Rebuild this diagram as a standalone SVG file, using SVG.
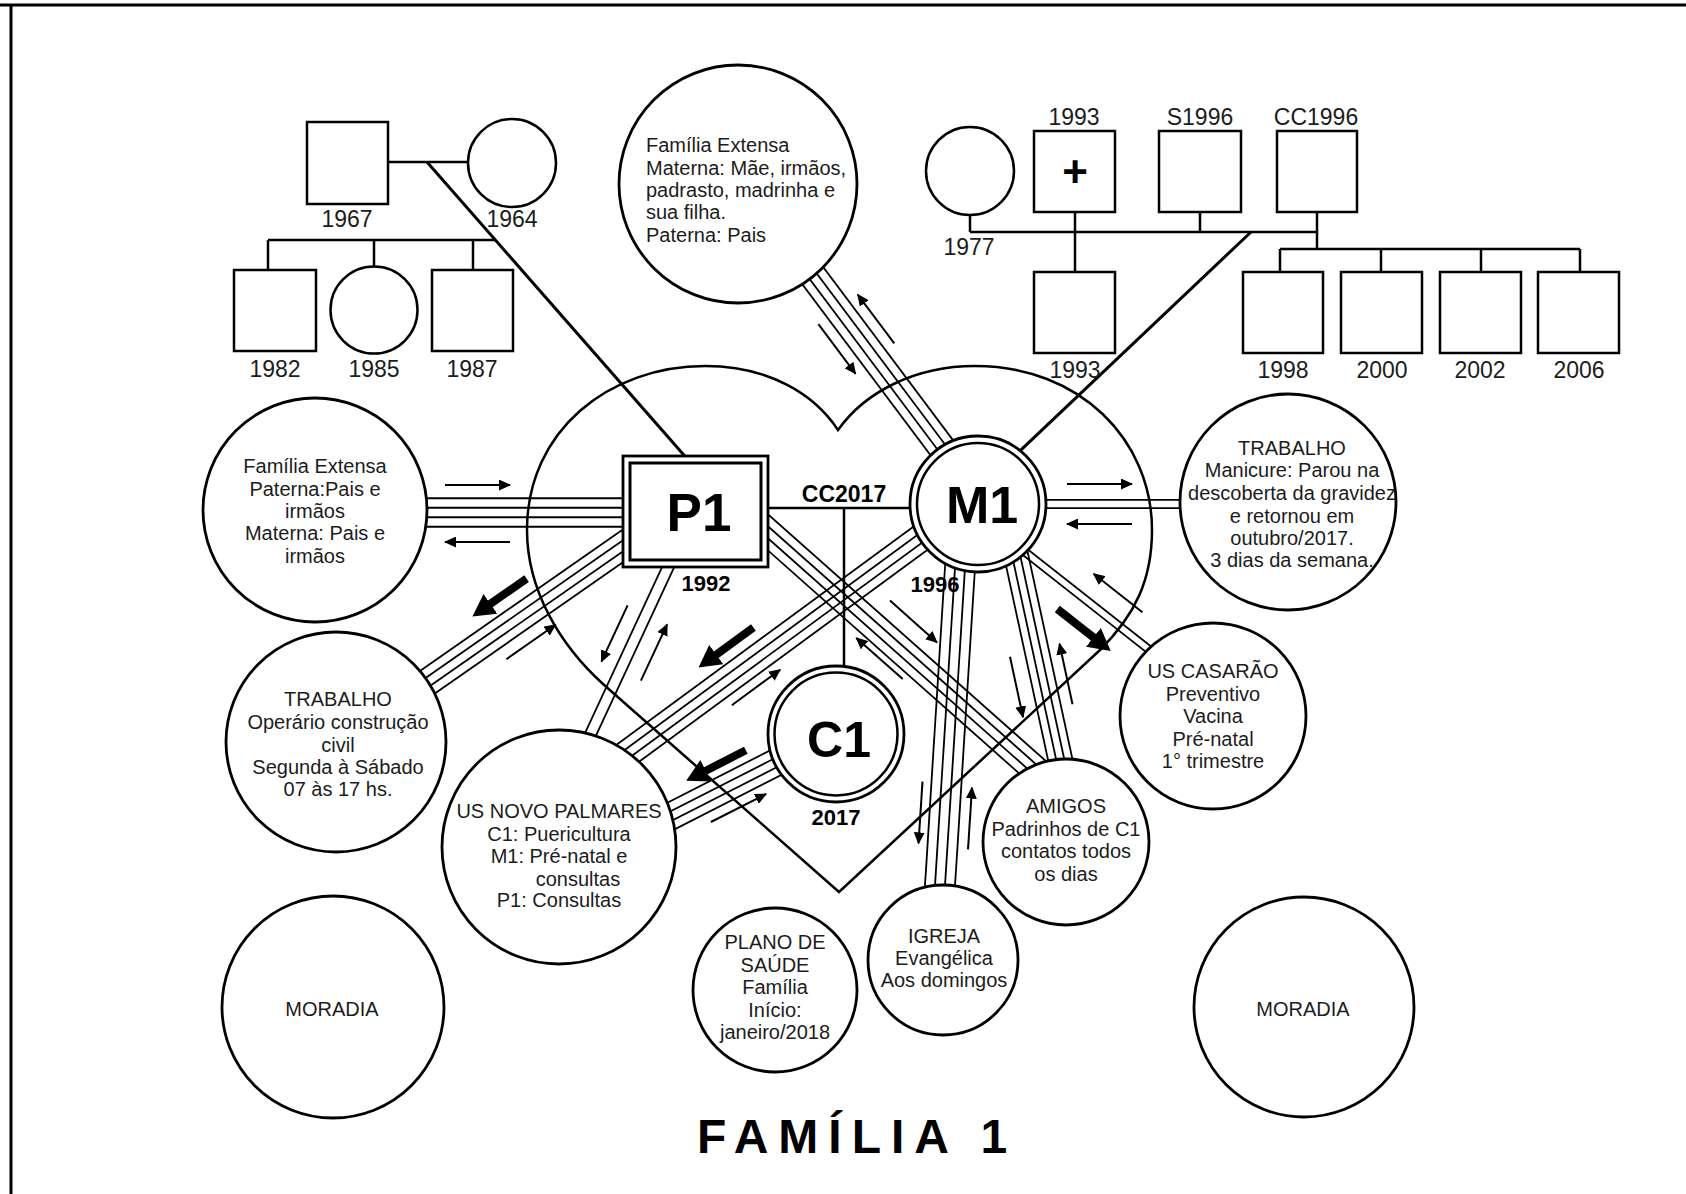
<svg xmlns="http://www.w3.org/2000/svg" width="1686" height="1194" viewBox="0 0 1686 1194">
<defs>
<style>
.frame{stroke:#000;stroke-width:3;fill:none}
.ln{stroke:#000;stroke-width:2.5;fill:none}
.rel{stroke:#000;stroke-width:3;fill:none}
.bd line{stroke:#000;stroke-width:1.8}
.ar{stroke:#000;stroke-width:2;marker-end:url(#ah)}
.ak{stroke:#000;stroke-width:8;marker-end:url(#ahb)}
.nd{fill:#fff;stroke:#000;stroke-width:2.8}
.gn{fill:#fff;stroke:#000;stroke-width:2.5}
.t{font-family:"Liberation Sans",Arial,sans-serif;font-size:20px;fill:#1c1c1c;text-anchor:middle}
.tl{text-anchor:start}
.gl{font-family:"Liberation Sans",Arial,sans-serif;font-size:23px;fill:#1c1c1c;text-anchor:middle}
.bl{font-family:"Liberation Sans",Arial,sans-serif;font-weight:bold;fill:#000;text-anchor:middle}
</style>
<marker id="ah" viewBox="0 0 12 11" refX="11" refY="5.5" markerWidth="12" markerHeight="11" markerUnits="userSpaceOnUse" orient="auto"><path d="M0,0 L12,5.5 L0,11 Z"/></marker>
<marker id="ahb" viewBox="0 0 22 24" refX="1" refY="12" markerWidth="22" markerHeight="24" markerUnits="userSpaceOnUse" orient="auto"><path d="M0,0 L22,12 L0,24 Z"/></marker>
</defs>
<rect width="1686" height="1194" fill="#fff"/>
<!-- page frame -->
<line class="frame" x1="0" y1="5" x2="1686" y2="5"/>
<line class="frame" x1="11" y1="5" x2="11" y2="1194"/>

<!-- household heart -->
<path id="heart" class="ln" d="M839,892 L603,684 C560,645 527,590 527,530 C527,430 610,366 705,366 C770,366 815,395 838,430 C865,392 915,366 975,366 C1080,366 1152,440 1152,530 C1152,580 1135,615 1100,650 Z"/>

<g id="connectors">
  <!-- genogram: P1 family of origin -->
  <line class="ln" x1="388" y1="162" x2="468" y2="162"/>
  <line class="ln" x1="268" y1="240" x2="495" y2="240"/>
  <line class="ln" x1="268" y1="240" x2="268" y2="270"/>
  <line class="ln" x1="374" y1="240" x2="374" y2="267"/>
  <line class="ln" x1="473" y1="240" x2="473" y2="270"/>
  <line class="rel" x1="427" y1="162" x2="690" y2="462"/>
  <!-- genogram: M1 family of origin -->
  <line class="ln" x1="970" y1="215" x2="970" y2="232"/>
  <line class="ln" x1="970" y1="232" x2="1317" y2="232"/>
  <line class="ln" x1="1075" y1="212" x2="1075" y2="272"/>
  <line class="ln" x1="1200" y1="212" x2="1200" y2="232"/>
  <line class="ln" x1="1317" y1="212" x2="1317" y2="249"/>
  <line class="ln" x1="1280" y1="249" x2="1580" y2="249"/>
  <line class="ln" x1="1280" y1="249" x2="1280" y2="272"/>
  <line class="ln" x1="1381" y1="249" x2="1381" y2="272"/>
  <line class="ln" x1="1481" y1="249" x2="1481" y2="272"/>
  <line class="ln" x1="1580" y1="249" x2="1580" y2="272"/>
  <line class="rel" x1="1251" y1="232" x2="1005" y2="465"/>
  <!-- couple and child -->
  <line class="ln" x1="695" y1="508" x2="978" y2="508"/>
  <line class="ln" x1="844" y1="508" x2="844" y2="734"/>

  <!-- ecomap bundles -->
  <g class="bd" transform="translate(744,184) rotate(53.13)"><line x1="0" y1="-13.5" x2="400" y2="-13.5"/><line x1="0" y1="-4.5" x2="400" y2="-4.5"/><line x1="0" y1="4.5" x2="400" y2="4.5"/><line x1="0" y1="13.5" x2="400" y2="13.5"/></g>
  <g class="bd" transform="translate(315,512.5)"><line x1="0" y1="-14.25" x2="380" y2="-14.25"/><line x1="0" y1="-4.75" x2="380" y2="-4.75"/><line x1="0" y1="4.75" x2="380" y2="4.75"/><line x1="0" y1="14.25" x2="380" y2="14.25"/></g>
  <g class="bd" transform="translate(336,746) rotate(-34.9)"><line x1="0" y1="-13.5" x2="371" y2="-13.5"/><line x1="0" y1="-4.5" x2="371" y2="-4.5"/><line x1="0" y1="4.5" x2="371" y2="4.5"/><line x1="0" y1="13.5" x2="371" y2="13.5"/></g>
  <g class="bd" transform="translate(690,520) rotate(114.9)"><line x1="0" y1="-5.5" x2="309" y2="-5.5"/><line x1="0" y1="5.5" x2="309" y2="5.5"/></g>
  <g class="bd" transform="translate(978,496) rotate(143.7)"><line x1="0" y1="-13.5" x2="494" y2="-13.5"/><line x1="0" y1="-4.5" x2="494" y2="-4.5"/><line x1="0" y1="4.5" x2="494" y2="4.5"/><line x1="0" y1="13.5" x2="494" y2="13.5"/></g>
  <g class="bd" transform="translate(836,732) rotate(153)"><line x1="0" y1="-13.5" x2="265" y2="-13.5"/><line x1="0" y1="-4.5" x2="265" y2="-4.5"/><line x1="0" y1="4.5" x2="265" y2="4.5"/><line x1="0" y1="13.5" x2="265" y2="13.5"/></g>
  <g class="bd" transform="translate(700,472) rotate(41.6)"><line x1="0" y1="-13.5" x2="490" y2="-13.5"/><line x1="0" y1="-4.5" x2="490" y2="-4.5"/><line x1="0" y1="4.5" x2="490" y2="4.5"/><line x1="0" y1="13.5" x2="490" y2="13.5"/></g>
  <g class="bd" transform="translate(978,504)"><line x1="0" y1="-4.2" x2="310" y2="-4.2"/><line x1="0" y1="4.2" x2="310" y2="4.2"/></g>
  <g class="bd" transform="translate(978,515) rotate(38.2)"><line x1="0" y1="-3.75" x2="299" y2="-3.75"/><line x1="0" y1="3.75" x2="299" y2="3.75"/></g>
  <g class="bd" transform="translate(1005,504) rotate(77.8)"><line x1="0" y1="-12" x2="303" y2="-12"/><line x1="0" y1="-4" x2="303" y2="-4"/><line x1="0" y1="4" x2="303" y2="4"/><line x1="0" y1="12" x2="303" y2="12"/></g>
  <g class="bd" transform="translate(964,504) rotate(93.6)"><line x1="0" y1="-15" x2="457" y2="-15"/><line x1="0" y1="-5" x2="457" y2="-5"/><line x1="0" y1="5" x2="457" y2="5"/><line x1="0" y1="15" x2="457" y2="15"/></g>

  <!-- flow arrows -->
  <line class="ar" x1="894.3" y1="343.4" x2="857.7" y2="294.6"/>
  <line class="ar" x1="818.4" y1="324.2" x2="855.6" y2="373.8"/>
  <line class="ar" x1="445" y1="485" x2="510" y2="485"/>
  <line class="ar" x1="510" y1="542" x2="445" y2="542"/>
  <line class="ar" x1="506.4" y1="659.2" x2="555.6" y2="624.8"/>
  <line class="ar" x1="627.6" y1="605.4" x2="601.4" y2="661.6"/>
  <line class="ar" x1="640.9" y1="680.6" x2="667.1" y2="624.4"/>
  <line class="ar" x1="731.8" y1="705.3" x2="780.2" y2="669.7"/>
  <line class="ar" x1="710.9" y1="822" x2="766.1" y2="794"/>
  <line class="ar" x1="890" y1="600.6" x2="937" y2="642.4"/>
  <line class="ar" x1="902.7" y1="679.1" x2="856.3" y2="637.9"/>
  <line class="ar" x1="1067" y1="484" x2="1132" y2="484"/>
  <line class="ar" x1="1132" y1="524" x2="1067" y2="524"/>
  <line class="ar" x1="1142.4" y1="612.2" x2="1093.6" y2="573.8"/>
  <line class="ar" x1="1010" y1="656.7" x2="1023" y2="717.3"/>
  <line class="ar" x1="1072.5" y1="704.3" x2="1059.5" y2="643.7"/>
  <line class="ar" x1="922.5" y1="781.6" x2="918.5" y2="843.4"/>
  <line class="ar" x1="968" y1="849.4" x2="972" y2="787.6"/>
  <line class="ak" x1="526.6" y1="578.6" x2="489.6" y2="604.4"/>
  <line class="ak" x1="753.4" y1="627.4" x2="715.5" y2="655.2"/>
  <line class="ak" x1="745.8" y1="750.3" x2="704.9" y2="771.2"/>
  <line class="ak" x1="1057.3" y1="609" x2="1094.2" y2="638"/>
</g>

<!-- genogram nodes -->
<g id="g-1967"><rect class="gn" x="307" y="122" width="81" height="82"/><text class="gl" x="347" y="227">1967</text></g>
<g id="g-1964"><circle class="gn" cx="512" cy="163" r="44"/><text class="gl" x="512" y="227">1964</text></g>
<g id="g-1982"><rect class="gn" x="234" y="270" width="82" height="81"/><text class="gl" x="275" y="377">1982</text></g>
<g id="g-1985"><circle class="gn" cx="374" cy="310" r="43.5"/><text class="gl" x="374" y="377">1985</text></g>
<g id="g-1987"><rect class="gn" x="432" y="270" width="81" height="81"/><text class="gl" x="472" y="377">1987</text></g>

<g id="g-1977"><circle class="gn" cx="970" cy="171" r="44"/><text class="gl" x="969" y="255">1977</text></g>
<g id="g-1993a"><rect class="gn" x="1034" y="131" width="81" height="81"/><text class="gl" x="1074" y="125">1993</text><text class="bl" x="1075" y="187" font-size="44">+</text></g>
<g id="g-s1996"><rect class="gn" x="1159" y="131" width="82" height="81"/><text class="gl" x="1200" y="125">S1996</text></g>
<g id="g-cc1996"><rect class="gn" x="1277" y="131" width="80" height="81"/><text class="gl" x="1316" y="125">CC1996</text></g>
<g id="g-1993b"><rect class="gn" x="1034" y="272" width="81" height="81"/><text class="gl" x="1075" y="378">1993</text></g>
<g id="g-1998"><rect class="gn" x="1243" y="272" width="80" height="81"/><text class="gl" x="1283" y="378">1998</text></g>
<g id="g-2000"><rect class="gn" x="1341" y="272" width="81" height="81"/><text class="gl" x="1382" y="378">2000</text></g>
<g id="g-2002"><rect class="gn" x="1440" y="272" width="81" height="81"/><text class="gl" x="1480" y="378">2002</text></g>
<g id="g-2006"><rect class="gn" x="1538" y="272" width="81" height="81"/><text class="gl" x="1579" y="378">2006</text></g>

<!-- household members -->
<g id="node-p1">
  <rect class="nd" x="623" y="456" width="145" height="111" stroke-width="3"/>
  <rect fill="none" stroke="#000" stroke-width="3" x="630" y="463" width="131" height="97"/>
  <text class="bl" x="699" y="531" font-size="53">P1</text>
  <text class="bl" x="706" y="591" font-size="22">1992</text>
</g>
<text class="bl" x="844" y="502" font-size="23">CC2017</text>
<g id="node-m1">
  <circle class="nd" cx="978" cy="504" r="68" stroke-width="3"/>
  <circle fill="none" stroke="#000" stroke-width="2.5" cx="978" cy="504" r="61"/>
  <text class="bl" x="982" y="523" font-size="52">M1</text>
  <text class="bl" x="935" y="592" font-size="22">1996</text>
</g>
<g id="node-c1">
  <circle class="nd" cx="836" cy="734" r="68" stroke-width="3"/>
  <circle fill="none" stroke="#000" stroke-width="2.5" cx="836" cy="734" r="61.5"/>
  <text class="bl" x="839" y="757" font-size="50">C1</text>
  <text class="bl" x="836" y="825" font-size="22">2017</text>
</g>

<!-- ecomap systems -->
<g id="node-familia-extensa-m1">
  <circle class="nd" cx="738" cy="184" r="119"/>
  <text class="t tl" x="646" y="152">Família Extensa</text>
  <text class="t tl" x="646" y="174.5">Materna: Mãe, irmãos,</text>
  <text class="t tl" x="646" y="197">padrasto, madrinha e</text>
  <text class="t tl" x="646" y="219">sua filha.</text>
  <text class="t tl" x="646" y="242">Paterna: Pais</text>
</g>
<g id="node-familia-extensa-p1">
  <circle class="nd" cx="315" cy="510" r="112"/>
  <text class="t" x="315" y="473">Família Extensa</text>
  <text class="t" x="315" y="496">Paterna:Pais e</text>
  <text class="t" x="315" y="518">irmãos</text>
  <text class="t" x="315" y="540">Materna: Pais e</text>
  <text class="t" x="315" y="563">irmãos</text>
</g>
<g id="node-trabalho-p1">
  <circle class="nd" cx="336" cy="742" r="110"/>
  <text class="t" x="338" y="706">TRABALHO</text>
  <text class="t" x="338" y="729">Operário construção</text>
  <text class="t" x="338" y="752">civil</text>
  <text class="t" x="338" y="774">Segunda à Sábado</text>
  <text class="t" x="338" y="796">07 às 17 hs.</text>
</g>
<g id="node-us-novo-palmares">
  <circle class="nd" cx="559" cy="847" r="117"/>
  <text class="t" x="559" y="818">US NOVO PALMARES</text>
  <text class="t" x="559" y="841">C1: Puericultura</text>
  <text class="t" x="559" y="863">M1: Pré-natal e</text>
  <text class="t" x="578" y="886">consultas</text>
  <text class="t" x="559" y="907">P1: Consultas</text>
</g>
<g id="node-plano-saude">
  <circle class="nd" cx="775" cy="990" r="82"/>
  <text class="t" x="775" y="949">PLANO DE</text>
  <text class="t" x="775" y="972">SAÚDE</text>
  <text class="t" x="775" y="994">Família</text>
  <text class="t" x="775" y="1017">Início:</text>
  <text class="t" x="775" y="1039">janeiro/2018</text>
</g>
<g id="node-igreja">
  <circle class="nd" cx="943" cy="960" r="75"/>
  <text class="t" x="944" y="943">IGREJA</text>
  <text class="t" x="944" y="965">Evangélica</text>
  <text class="t" x="944" y="987">Aos domingos</text>
</g>
<g id="node-amigos">
  <circle class="nd" cx="1066" cy="842" r="83"/>
  <text class="t" x="1066" y="813">AMIGOS</text>
  <text class="t" x="1066" y="836">Padrinhos de C1</text>
  <text class="t" x="1066" y="858">contatos todos</text>
  <text class="t" x="1066" y="881">os dias</text>
</g>
<g id="node-us-casarao">
  <circle class="nd" cx="1213" cy="716" r="93"/>
  <text class="t" x="1213" y="678">US CASARÃO</text>
  <text class="t" x="1213" y="701">Preventivo</text>
  <text class="t" x="1213" y="723">Vacina</text>
  <text class="t" x="1213" y="746">Pré-natal</text>
  <text class="t" x="1213" y="768">1° trimestre</text>
</g>
<g id="node-trabalho-m1">
  <circle class="nd" cx="1288" cy="502" r="108"/>
  <text class="t" x="1292" y="455">TRABALHO</text>
  <text class="t" x="1292" y="477">Manicure: Parou na</text>
  <text class="t" x="1292" y="500">descoberta da gravidez</text>
  <text class="t" x="1292" y="523">e retornou em</text>
  <text class="t" x="1292" y="545">outubro/2017.</text>
  <text class="t" x="1292" y="567">3 dias da semana.</text>
</g>
<g id="node-moradia-1">
  <circle class="nd" cx="333" cy="1007" r="111"/>
  <text class="t" x="332" y="1016">MORADIA</text>
</g>
<g id="node-moradia-2">
  <circle class="nd" cx="1304" cy="1007" r="110"/>
  <text class="t" x="1303" y="1016">MORADIA</text>
</g>

<text id="title" class="bl" x="697" y="1153" font-size="48" letter-spacing="10" style="text-anchor:start">FAMÍLIA 1</text>
</svg>
